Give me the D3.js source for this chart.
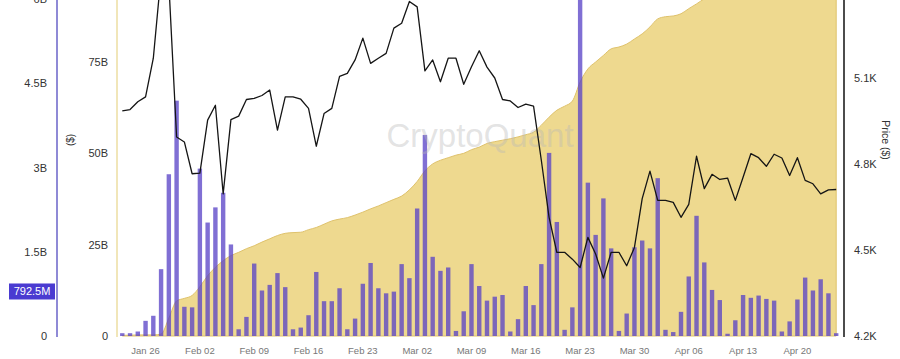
<!DOCTYPE html>
<html>
<head>
<meta charset="utf-8">
<script src="https://cdn.jsdelivr.net/npm/d3@7/dist/d3.min.js"></script>
<style>
  html, body { margin: 0; padding: 0; background: #fff; }
  svg { display: block; font-family: "Liberation Sans", Arial, Helvetica, sans-serif; }
</style>
</head>
<body>
<svg id="chart" width="900" height="359"></svg>
<script>
// ---------- DATA ----------
const startDate = "2025-01-23";
// daily bar values (billions, left axis)
const barValues = [
  0.05, 0.05, 0.08, 0.27, 0.36, 1.19, 2.88, 4.19, 0.52, 0.51,
  2.98, 2.02, 2.29, 2.55, 1.63, 0.12, 0.34, 1.29, 0.81, 0.91,
  1.12, 0.87, 0.12, 0.15, 0.37, 1.14, 0.62, 0.62, 0.85, 0.12,
  0.31, 0.93, 1.30, 0.85, 0.76, 0.79, 1.28, 1.03, 2.27, 3.58,
  1.41, 1.16, 1.22, 0.09, 0.44, 1.28, 0.89, 0.63, 0.70, 0.73,
  0.08, 0.30, 0.89, 0.55, 1.28, 3.26, 2.03, 0.11, 0.51, 6.60,
  2.73, 1.80, 2.45, 1.56, 0.09, 0.40, 1.58, 1.70, 1.56, 2.81,
  0.11, 0.07, 0.43, 1.06, 2.14, 1.31, 0.82, 0.64, 0.04, 0.28,
  0.73, 0.68, 0.72, 0.66, 0.63, 0.08, 0.26, 0.65, 1.04, 0.81,
  1.01, 0.76, 0.05
];
// cumulative area values (billions, ($) axis)
const areaValues = [
  0.2, 0.2, 0.3, 0.3, 0.3, 0.5, 4.9, 9.6, 10.3, 11.1,
  13.5, 16.5, 18.8, 20.6, 22.0, 22.9, 23.9, 24.7, 25.7, 26.6,
  27.5, 28.1, 28.3, 28.4, 29.1, 29.7, 30.6, 31.5, 32.0, 32.4,
  33.1, 33.9, 34.8, 35.6, 36.5, 37.4, 38.3, 40.0, 42.3, 45.2,
  47.1, 48.1, 48.8, 49.5, 50.0, 51.0, 51.7, 52.7, 53.2, 53.6,
  54.0, 54.5, 55.1, 55.8, 57.7, 59.9, 61.8, 62.9, 64.3, 69.5,
  73.1, 75.0, 76.8, 78.6, 79.1, 79.9, 81.3, 82.7, 84.6, 86.8,
  87.4, 87.6, 88.2, 89.6, 90.9, 92.3, 93.4, 94.3, 95.1, 95.8,
  96.6, 97.5, 98.3, 99.0, 99.8, 100.5, 101.2, 102.0, 102.9, 103.6,
  104.3, 105.0, 105.6
];
// price line (right axis)
const priceValues = [
  4985, 4990, 5017, 5034, 5169, 5460, 5430, 4894, 4877, 4766,
  4768, 4953, 5005, 4696, 4955, 4967, 5025, 5029, 5039, 5058,
  4918, 5034, 5034, 5026, 4994, 4862, 4976, 4994, 5106, 5116,
  5163, 5239, 5151, 5169, 5186, 5274, 5291, 5367, 5348, 5125,
  5163, 5087, 5169, 5169, 5078, 5139, 5195, 5138, 5100, 5025,
  5020, 4997, 5009, 5002, 4813, 4614, 4492, 4492, 4468, 4439,
  4544, 4486, 4402, 4492, 4492, 4445, 4509, 4679, 4775, 4673,
  4673, 4666, 4614, 4659, 4827, 4714, 4764, 4746, 4751, 4673,
  4754, 4836, 4822, 4792, 4834, 4821, 4760, 4822, 4743, 4731,
  4696, 4710, 4711
];
const leftTicks = [0, 1.5, 3, 4.5, 6];
const leftTickLabels = ["0", "1.5B", "3B", "4.5B", "6B"];
const midTicks = [0, 25, 50, 75];
const midTickLabels = ["0", "25B", "50B", "75B"];
const rightTicks = [4200, 4500, 4800, 5100, 5400];
const rightTickLabels = ["4.2K", "4.5K", "4.8K", "5.1K", "5.4K"];
const xTickLabels = ["Jan 26", "Feb 02", "Feb 09", "Feb 16", "Feb 23", "Mar 02", "Mar 09",
                     "Mar 16", "Mar 23", "Mar 30", "Apr 06", "Apr 13", "Apr 20"];
const markerValue = 0.7925;
const markerLabel = "792.5M";

// ---------- BUILD ----------
const parse = d3.timeParse("%Y-%m-%d");
const fmt = d3.timeFormat("%b %d");
const d0 = parse(startDate);
const dates = barValues.map((_, i) => d3.timeDay.offset(d0, i));
const keys = dates.map(d => fmt(d));

const svg = d3.select("#chart");

const x = d3.scaleBand().domain(keys).range([118.4, 118.4 + keys.length * 7.76]).padding(0);
const cx = k => x(k) + x.bandwidth() / 2;
const yBar = d3.scaleLinear().domain([0, 6]).range([336, -1]);
const yArea = d3.scaleLinear().domain([0, 75]).range([336, 62]);
const yPrice = d3.scaleLinear().domain([4200, 5100]).range([336, 78]);

// area
const area = d3.area()
  .x((d, i) => cx(keys[i]))
  .y0(yArea(0))
  .y1(d => yArea(d))
  .curve(d3.curveMonotoneX);
svg.append("path")
  .datum(areaValues)
  .attr("d", area)
  .attr("fill", "#eed98f")
  .attr("stroke", "#dfc26c")
  .attr("stroke-width", 1);

// bars
const bw = 4.4;
svg.append("g").selectAll("rect")
  .data(barValues)
  .join("rect")
  .attr("x", (d, i) => cx(keys[i]) - bw / 2)
  .attr("y", d => yBar(d))
  .attr("width", bw)
  .attr("height", d => yBar(0) - yBar(d))
  .attr("fill", "rgb(88,66,198)")
  .attr("fill-opacity", 0.76);

// watermark
svg.append("text")
  .attr("x", 480).attr("y", 147)
  .attr("text-anchor", "middle")
  .attr("font-size", 33)
  .attr("fill", "#b8b8b8")
  .attr("fill-opacity", 0.4)
  .text("CryptoQuant");

// price line
const line = d3.line()
  .x((d, i) => cx(keys[i]))
  .y(d => yPrice(d));
svg.append("path")
  .datum(priceValues)
  .attr("d", line)
  .attr("fill", "none")
  .attr("stroke", "#151515")
  .attr("stroke-width", 1.3)
  .attr("stroke-linejoin", "round");

// left axis (bars)
const axL = svg.append("g").attr("transform", "translate(57,0)")
  .call(d3.axisLeft(yBar).tickValues(leftTicks).tickSize(0).tickPadding(10)
    .tickFormat((d, i) => leftTickLabels[i]));
axL.select(".domain").attr("stroke", "#8f8ad6").attr("stroke-width", 2).attr("d", "M0,-5V337");
axL.selectAll("text").attr("font-size", 11).attr("fill", "#333").attr("font-family", "Liberation Sans, Arial, sans-serif");

// marker label
const mg = svg.append("g");
mg.append("rect").attr("x", 9).attr("y", yBar(markerValue) - 8).attr("width", 46).attr("height", 16)
  .attr("fill", "#4a3bd1");
mg.append("text").attr("x", 32).attr("y", yBar(markerValue) + 4).attr("text-anchor", "middle")
  .attr("font-size", 11).attr("fill", "#fff").text(markerLabel);

// middle axis (area)
const axM = svg.append("g").attr("transform", "translate(117,0)")
  .call(d3.axisLeft(yArea).tickValues(midTicks).tickSize(0).tickPadding(9)
    .tickFormat((d, i) => midTickLabels[i]));
axM.select(".domain").attr("stroke", "#f1e6b9").attr("stroke-width", 2).attr("d", "M0,-5V337");
axM.selectAll("text").attr("font-size", 11).attr("fill", "#333").attr("font-family", "Liberation Sans, Arial, sans-serif");
svg.append("text").attr("transform", "translate(74,140) rotate(-90)")
  .attr("text-anchor", "middle").attr("font-size", 10).attr("fill", "#333").text("($)");

// right axis (price)
const axR = svg.append("g").attr("transform", "translate(844,0)")
  .call(d3.axisRight(yPrice).tickValues(rightTicks).tickSize(0).tickPadding(10)
    .tickFormat((d, i) => rightTickLabels[i]));
axR.select(".domain").attr("stroke", "#111").attr("stroke-width", 1.5).attr("d", "M0,-5V337");
axR.selectAll("text").attr("font-size", 11).attr("fill", "#333").attr("font-family", "Liberation Sans, Arial, sans-serif");
svg.append("text").attr("transform", "translate(882,140) rotate(90)")
  .attr("text-anchor", "middle").attr("font-size", 10.5).attr("fill", "#333").text("Price ($)");

// x axis labels
const axX = svg.append("g").attr("transform", "translate(0,337)")
  .call(d3.axisBottom(x).tickValues(xTickLabels).tickSize(0).tickPadding(10));
axX.select(".domain").remove();
axX.selectAll("text").attr("font-size", 9.5).attr("fill", "#777").attr("font-family", "Liberation Sans, Arial, sans-serif");
</script>
</body>
</html>
